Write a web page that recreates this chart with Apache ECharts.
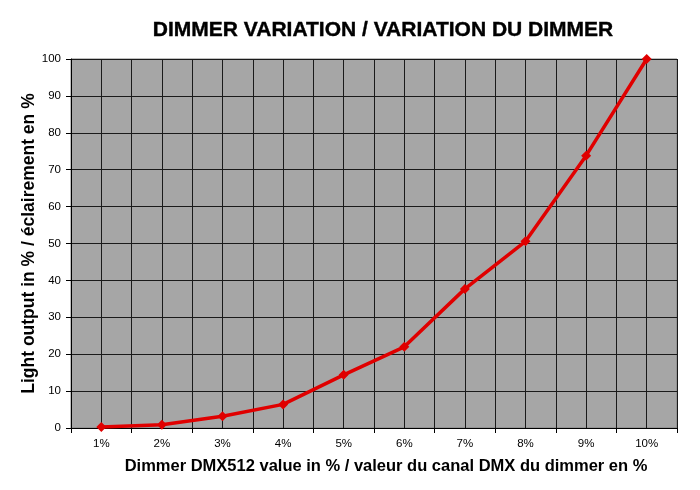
<!DOCTYPE html>
<html><head><meta charset="utf-8">
<script src="https://cdn.jsdelivr.net/npm/echarts@6/dist/echarts.min.js"></script>
<style>html,body{margin:0;padding:0;background:#fff}#c{width:700px;height:490px}</style>
</head><body><div id="c"></div>
<script>
const categories = ['1%','2%','3%','4%','5%','6%','7%','8%','9%','10%'];
const lightOutput = [0.3, 0.9, 3.2, 6.4, 14.4, 22.0, 37.7, 50.6, 73.8, 100];
const yTicks = {min: 0, max: 100, interval: 10};

const chart = echarts.init(document.getElementById('c'));
const F = 'Liberation Sans, Arial, sans-serif';
chart.setOption({
  animation: false,
  backgroundColor: '#fff',
  title: {
    text: 'DIMMER VARIATION / VARIATION DU DIMMER',
    left: 378, top: 15, textAlign: 'center',
    textStyle: {fontFamily: F, fontSize: 21, fontWeight: 'bold', color: '#000', textBorderColor: '#000', textBorderWidth: 0.4}
  },
  grid: {left: 71, right: 23, top: 59, bottom: 62, show: true, backgroundColor: '#a6a6a6', borderColor: '#808080', borderWidth: 1},
  xAxis: [{
    type: 'category', data: categories, boundaryGap: true,
    axisLine: {lineStyle: {color: '#000', width: 1}},
    axisTick: {show: true, length: 5, lineStyle: {color: '#000'}},
    axisLabel: {fontFamily: F, fontSize: 11.5, color: '#000', margin: 10},
    splitLine: {show: true, lineStyle: {color: '#1a1a1a', width: 1}},
    name: 'Dimmer DMX512 value in % / valeur du canal DMX du dimmer en %',
    nameLocation: 'middle', nameGap: 30,
    nameTextStyle: {fontFamily: F, fontSize: 16.5, fontWeight: 'bold', color: '#000', padding: [0, 0, 0, 24]}
  }, {
    type: 'value', min: 0, max: 20, interval: 1, position: 'bottom',
    axisLine: {show: false}, axisTick: {show: false}, axisLabel: {show: false},
    splitLine: {show: true, lineStyle: {color: '#1a1a1a', width: 1}}
  }],
  yAxis: {
    type: 'value', min: yTicks.min, max: yTicks.max, interval: yTicks.interval,
    axisLine: {show: true, lineStyle: {color: '#000'}},
    axisTick: {show: true, length: 5, lineStyle: {color: '#000'}},
    axisLabel: {fontFamily: F, fontSize: 11.5, color: '#000', margin: 10},
    splitLine: {show: true, lineStyle: {color: '#1a1a1a', width: 1}},
    name: 'Light output in % / éclairement en %',
    nameLocation: 'middle', nameGap: 33, nameRotate: 90, nameMoveOverlap: false,
    nameTextStyle: {fontFamily: F, fontSize: 17.5, fontWeight: 'bold', color: '#000'}
  },
  series: [{
    type: 'line', xAxisIndex: 0, data: lightOutput,
    symbol: 'diamond', symbolSize: 10,
    lineStyle: {color: '#e00000', width: 3.5},
    itemStyle: {color: '#e00000'}
  }]
});
</script></body></html>
